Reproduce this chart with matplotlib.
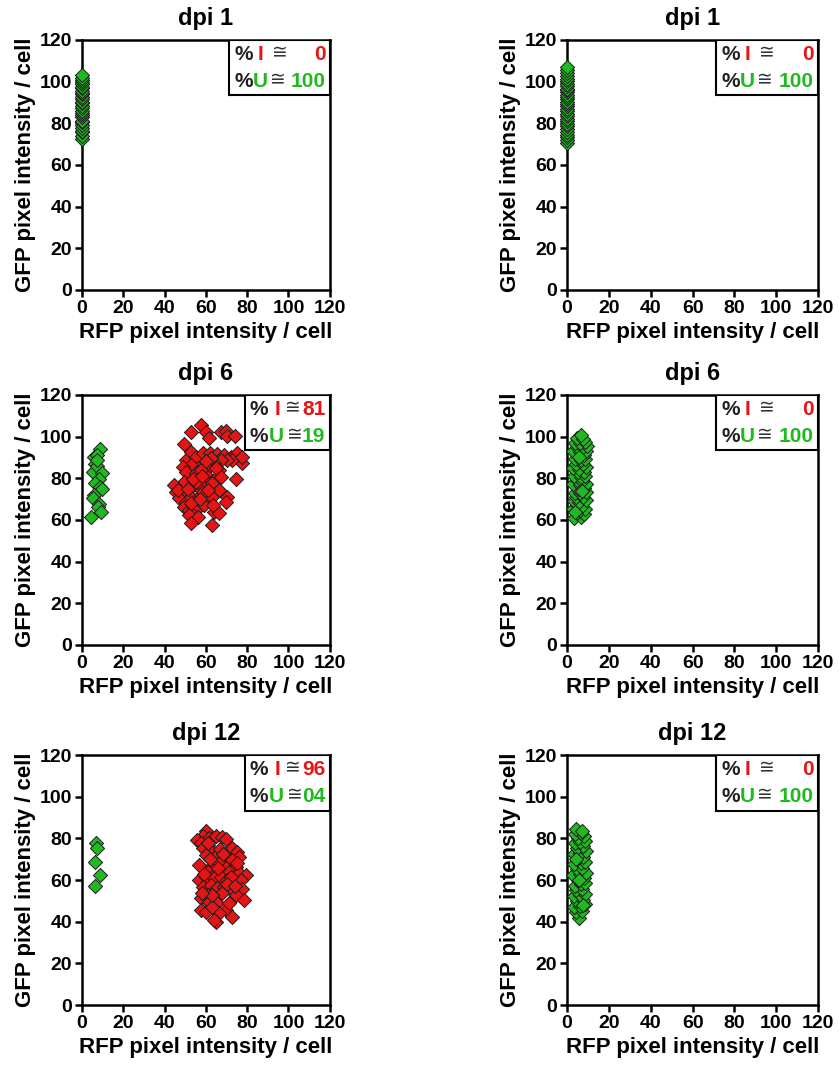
import matplotlib.pyplot as plt
from matplotlib.patches import Rectangle

plt.rcParams['font.family'] = ['Liberation Sans', 'DejaVu Sans']
plt.rcParams['font.weight'] = 'bold'

GREEN = '#1fba1f'
RED = '#e61414'
EDGE = '#1c1c1c'

# ---- data ----
# left column: dpi 1
l1_u_x = [0] * 28
l1_u_y = [72.5, 74.1, 75.8, 76.4, 77.9, 79.2, 80.6, 81.3, 82.8, 84.0, 85.1, 85.9, 87.3, 88.2,
          89.6, 90.4, 91.8, 92.5, 93.9, 94.7, 95.6, 96.8, 97.5, 98.9, 99.6, 100.8, 101.9, 103.2]

# left column: dpi 6
l6_u_x = [8.8, 5.6, 7.5, 6.4, 8.8, 5.3, 7.2, 9.6, 8.0, 6.4, 8.8, 9.6, 5.6, 5.3, 8.0, 7.7, 9.3, 4.5, 7.2]
l6_u_y = [94, 90, 91, 87, 82, 83, 86, 82.4, 79.5, 77.6, 76, 74.7, 72, 70.4, 67.5, 66.4, 64, 61.6, 89]
l6_i_x = [57.6, 52.8, 60.0, 61.6, 67.2, 69.6, 70.4, 74.0, 49.6, 50.4, 52.8, 55.2, 58.4, 61.9,
          65.6, 68.8, 72.0, 75.2, 77.3, 72.8, 70.4, 67.2, 64.0, 61.6, 56.0, 52.8, 48.8, 50.4,
          55.2, 57.6, 60.8, 64.8, 66.4, 74.7, 49.6, 44.5, 45.6, 48.0, 53.6, 56.8, 59.2, 63.2,
          66.4, 47.2, 50.4, 52.8, 55.2, 57.6, 60.8, 63.2, 70.4, 69.6, 49.6, 52.0, 54.4, 56.8,
          59.2, 52.0, 56.0, 52.8, 63.2, 64.0, 66.4, 58.4, 55.2, 77.6, 46.5, 51.5, 54.0, 58.0,
          62.5, 65.0, 60.0, 53.0, 57.0, 61.0, 67.5, 63.5]
l6_i_y = [105.6, 102, 102, 99.5, 102, 102.7, 100.3, 100.3, 96.3, 88.8, 92.8, 90.4, 92, 92,
          91.7, 91.2, 90.4, 92.3, 87.2, 88.8, 88.8, 88.8, 87.2, 85.6, 84.8, 86.4, 85.6, 83.2,
          82.4, 84, 80.8, 80, 84, 79.5, 78.4, 76.8, 73.6, 72.8, 76.8, 75.2, 76, 77.6,
          74.4, 70.4, 68.8, 71.2, 69.6, 72, 69.6, 71.2, 71.2, 68.8, 66.4, 64.8, 65.6, 66.4,
          67.2, 62.4, 61.6, 58.4, 57.6, 64, 63.2, 73.6, 78.4, 90.4, 74.5, 75.0, 79.5, 81.0,
          89.5, 85.0, 88.5, 68.0, 70.0, 74.5, 80.5, 67.0]

# left column: dpi 12
l12_u_x = [6.7, 7.5, 6.4, 8.8, 6.1]
l12_u_y = [77.6, 75.5, 68.8, 62.4, 57.3]
l12_i_x = [60.0, 58.4, 61.6, 64.8, 67.7, 69.6, 55.7, 57.6, 60.8, 58.7, 63.2, 65.6, 60.0, 72.8,
           75.2, 76.0, 70.4, 72.8, 56.8, 62.4, 66.4, 69.6, 74.4, 60.8, 64.8, 71.2, 76.0, 79.2,
           56.8, 60.0, 64.0, 67.2, 70.4, 73.6, 76.8, 58.4, 62.4, 65.6, 68.8, 72.0, 77.6, 74.4,
           57.6, 60.8, 64.8, 68.0, 78.4, 61.6, 57.6, 60.0, 65.6, 69.6, 66.4, 63.2, 72.8, 64.8,
           64.0, 71.2, 72.0, 62.0, 66.0, 70.0, 74.0, 59.0, 63.0, 67.0, 58.0, 75.0, 61.0, 68.5]
l12_i_y = [83.5, 81, 80, 81, 80.6, 79.5, 79, 77.6, 76.8, 75.2, 73.6, 72, 72, 75.5,
           73.6, 71.2, 69.9, 69.6, 67.2, 66.4, 68, 65.6, 66.4, 64, 63.2, 64, 63.2, 62.4,
           60, 61.6, 60.8, 61.6, 60, 59.2, 60, 56.8, 57.6, 56, 56.8, 55.2, 55.5, 52.8,
           51.2, 52.8, 51.2, 53.6, 50.4, 49.6, 45.6, 44.8, 48.8, 45.6, 44, 47.2, 42.4, 40,
           40.8, 48.8, 61.6, 70.0, 66.0, 58.0, 57.0, 63.0, 53.0, 75.0, 54.0, 68.0, 78.0, 72.5]

# right column: dpi 1
r1_u_x = [0] * 31
r1_u_y = [70.4, 71.8, 73.5, 74.2, 75.9, 77.1, 78.6, 79.8, 80.9, 82.3, 83.5, 84.7, 85.8, 86.9,
          88.1, 89.4, 90.2, 91.6, 92.7, 93.5, 94.8, 95.9, 96.6, 97.8, 99.0, 100.1, 101.4, 102.9,
          104.3, 105.6, 106.8]

# right column: dpi 6
r6_u_x = [3.5, 6.6, 4.9, 8.1, 3.1, 6.3, 8.8, 4.6, 7.4, 3.2, 5.9, 9.1, 4.4, 7.7, 3.6, 6.4, 8.9,
          5.2, 8.0, 2.9, 6.1, 9.2, 4.7, 7.3, 3.4, 6.7, 8.7, 5.1, 7.9, 3.0, 5.8, 9.0, 4.3, 7.6,
          3.7, 6.5, 8.6, 4.8, 8.2, 3.1, 6.0, 8.9, 4.6, 7.5, 9.4, 3.6, 6.4, 8.8, 5.0, 7.8, 6.6,
          4.0, 7.0, 5.5]
r6_u_y = [60.8, 61.5, 63.2, 62.9, 65.1, 64.7, 65.4, 67.3, 66.8, 69.0, 68.6, 69.4, 71.2, 70.8,
          73.1, 72.7, 73.4, 75.0, 75.3, 77.2, 76.7, 77.1, 79.1, 78.8, 81.0, 80.6, 81.3, 83.2,
          82.9, 85.1, 84.6, 85.2, 87.0, 86.8, 89.1, 88.7, 89.3, 91.0, 91.2, 93.1, 92.8, 93.0,
          95.2, 94.8, 95.4, 97.0, 96.7, 97.3, 99.1, 98.8, 100.6, 63.8, 74.0, 90.0]

# right column: dpi 12
r12_u_x = [5.8, 4.2, 7.1, 3.4, 6.3, 8.6, 4.9, 7.6, 3.2, 6.0, 8.8, 4.5, 7.3, 3.6, 6.5, 8.5, 5.1,
           7.9, 3.1, 6.2, 8.9, 4.7, 7.4, 3.5, 6.6, 8.7, 5.0, 7.8, 3.3, 6.1, 9.0, 4.6, 7.5, 3.8,
           6.4, 8.4, 5.2, 8.1, 3.9, 6.8, 4.4, 7.0, 5.5, 4.1, 7.7]
r12_u_y = [42.0, 44.8, 45.3, 47.1, 47.6, 48.3, 49.9, 50.6, 52.2, 52.8, 53.4, 55.0, 55.7, 57.3,
           57.9, 58.6, 60.2, 60.9, 62.5, 63.0, 63.6, 65.3, 65.9, 67.5, 68.0, 68.7, 70.3, 71.0,
           72.6, 73.1, 73.8, 75.4, 76.1, 77.6, 78.2, 78.9, 80.3, 81.0, 82.3, 82.8, 84.4, 83.5,
           60.0, 70.0, 48.0]

titles = ['dpi 1', 'dpi 1', 'dpi 6', 'dpi 6', 'dpi 12', 'dpi 12']
pct_i = ['0', '0', '81', '0', '96', '0']
pct_u = ['100', '100', '19', '100', '04', '100']

panels = [
    (l1_u_x, l1_u_y, [], []),
    (r1_u_x, r1_u_y, [], []),
    (l6_u_x, l6_u_y, l6_i_x, l6_i_y),
    (r6_u_x, r6_u_y, [], []),
    (l12_u_x, l12_u_y, l12_i_x, l12_i_y),
    (r12_u_x, r12_u_y, [], []),
]

fig = plt.figure(figsize=(8.4, 10.66), dpi=100)

lefts = [0.0976, 0.675]
widths = [0.295, 0.299]
bottoms = [0.728, 0.395, 0.0572]
height = 0.2345


def percent_box(ax, ival, uval):
    # box in the upper right corner, narrower when the numbers are two digits
    if len(uval) == 3:
        L, wd = 0.594, 0.406
        gaps = {'I': (3.5, 6.0), 'U': (0.3, 1.5)}
    else:
        L, wd = 0.656, 0.344
        gaps = {'I': (4.5, 3.5), 'U': (0.3, 2.5)}
    ax.add_patch(Rectangle((L, 0.778), wd, 0.222, transform=ax.transAxes,
                           facecolor='white', edgecolor='black', lw=1.5, zorder=5))
    fs = 15
    for yy, letter, num, col in [(0.943, 'I', ival, RED), (0.835, 'U', uval, GREEN)]:
        g1, g2 = gaps[letter]
        pct = ax.text(L + 0.02, yy, '%', transform=ax.transAxes, fontsize=fs, ha='left',
                      va='center', color='#222222', zorder=6)
        let = ax.annotate(letter, xy=(1, 0.5), xycoords=pct, xytext=(g1, 0),
                          textcoords='offset points', fontsize=fs, ha='left', va='center',
                          color=col, zorder=6)
        ax.annotate('\u2245', xy=(1, 0.5), xycoords=let, xytext=(g2, 0),
                    textcoords='offset points', fontsize=fs - 1.5, ha='left', va='center',
                    color='#333333', fontweight='normal', zorder=6)
        ax.text(0.982, yy, num, transform=ax.transAxes, fontsize=fs, ha='right',
                va='center', color=col, zorder=6)


for k, (ux, uy, ix, iy) in enumerate(panels):
    row, col = divmod(k, 2)
    ax = fig.add_axes([lefts[col], bottoms[row], widths[col], height])
    if ix:
        ax.scatter(ix, iy, marker='D', s=52, facecolor=RED, edgecolor=EDGE,
                   linewidth=0.7, clip_on=False, zorder=3)
    ax.scatter(ux, uy, marker='D', s=52, facecolor=GREEN, edgecolor=EDGE,
               linewidth=0.7, clip_on=False, zorder=3)
    ax.set_xlim(0, 120)
    ax.set_ylim(0, 120)
    ax.set_xticks(range(0, 121, 20))
    ax.set_yticks(range(0, 121, 20))
    for sp in ax.spines.values():
        sp.set_linewidth(1.8)
    ax.tick_params(direction='out', length=5, width=1.8, labelsize=14, pad=2)
    ax.set_title(titles[k], fontsize=17, fontweight='bold', pad=11)
    ax.set_xlabel('RFP pixel intensity / cell', fontsize=16, fontweight='bold', labelpad=4)
    ax.set_ylabel('GFP pixel intensity / cell', fontsize=16, fontweight='bold', labelpad=3)
    percent_box(ax, pct_i[k], pct_u[k])

fig.savefig('out.png', dpi=100)
